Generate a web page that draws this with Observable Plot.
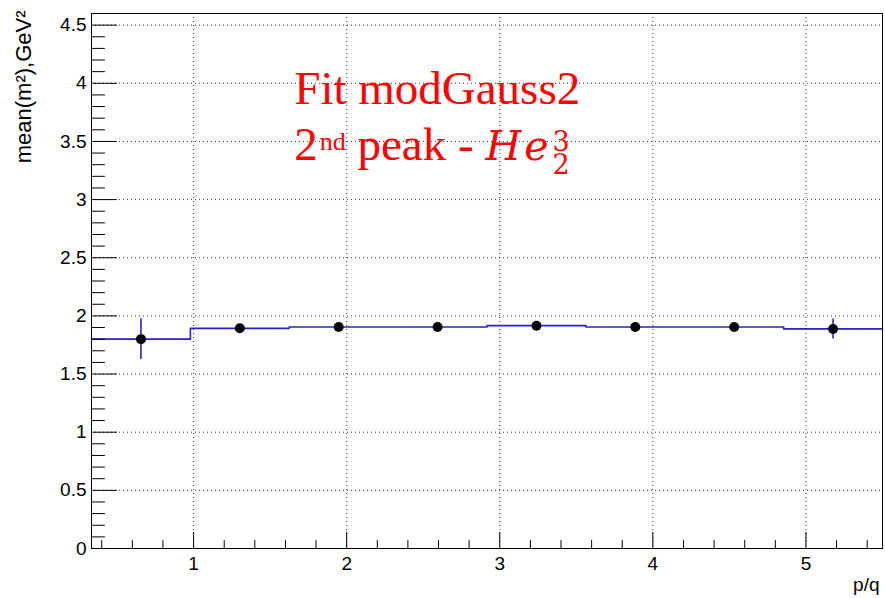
<!DOCTYPE html>
<html>
<head>
<meta charset="utf-8">
<script src="https://cdn.jsdelivr.net/npm/d3@7"></script>
<script src="https://cdn.jsdelivr.net/npm/@observablehq/plot@0.6"></script>
<style>
  html, body { margin: 0; padding: 0; background: #fff; }
  #chart svg { display: block; }
</style>
</head>
<body>
<div id="chart"></div>
<script>
// p/q histogram: 8 equal bins between 1/3 and 5.5
const binEdges = [0.3333, 0.9792, 1.6250, 2.2708, 2.9167, 3.5625, 4.2083, 4.8542, 5.5];
// fitted mean of m² (GeV²) in each bin, with its uncertainty
const meanM2  = [1.800, 1.893, 1.905, 1.905, 1.916, 1.905, 1.905, 1.888];
const meanErr = [0.176, 0.020, 0.020, 0.020, 0.020, 0.020, 0.020, 0.086];

// axis ticks
const xMajorTicks = [1, 2, 3, 4, 5];
const xMinorTicks = [0.4, 0.6, 0.8, 1.2, 1.4, 1.6, 1.8, 2.2, 2.4, 2.6, 2.8, 3.2, 3.4, 3.6, 3.8,
                     4.2, 4.4, 4.6, 4.8, 5.2, 5.4];
const yMajorTicks = [0, 0.5, 1, 1.5, 2, 2.5, 3, 3.5, 4, 4.5];
const yMinorTicks = [0.1, 0.2, 0.3, 0.4, 0.6, 0.7, 0.8, 0.9, 1.1, 1.2, 1.3, 1.4, 1.6, 1.7, 1.8, 1.9,
                     2.1, 2.2, 2.3, 2.4, 2.6, 2.7, 2.8, 2.9, 3.1, 3.2, 3.3, 3.4, 3.6, 3.7, 3.8, 3.9,
                     4.1, 4.2, 4.3, 4.4, 4.6];
const yMax = 4.6;

// labels
const xTitle = "p/q";
const yTitle = "mean(m²),GeV²";
const noteLine1 = "Fit modGauss2";
// annotation anchor, in data units
const noteX = 1.661, noteY1 = 3.818, noteY2 = 3.336;

const blue = "#2424cc";
const centers = meanM2.map((_, i) => (binEdges[i] + binEdges[i + 1]) / 2);
const points = meanM2.map((v, i) => ({x: centers[i], y: v, lo: v - meanErr[i], hi: v + meanErr[i]}));
const steps = binEdges.map((e, i) => ({x: e, y: meanM2[Math.min(i, meanM2.length - 1)]}));

// inward tick: a straight segment along the vector direction
const tickShape = {draw(ctx, l) { ctx.moveTo(0, 0); ctx.lineTo(0, -l); }};
const tick = (values, dim, len) => Plot.vector(values, {
  [dim]: d => d,
  frameAnchor: dim === "x" ? "bottom" : "left",
  rotate: dim === "x" ? 0 : 90,
  length: len, anchor: "start", shape: tickShape,
  stroke: "#000", strokeWidth: 1
});
const grid = {stroke: "#000", strokeOpacity: 0.8, strokeWidth: 1, strokeDasharray: "1,3"};

const plot = Plot.plot({
  width: 885,
  height: 598,
  marginLeft: 91,
  marginRight: 3,
  marginTop: 13,
  marginBottom: 50,
  style: {fontFamily: "'Liberation Sans', Arial, Helvetica, sans-serif", background: "#fff", color: "#000"},
  x: {domain: [binEdges[0], binEdges[binEdges.length - 1]]},
  y: {domain: [0, yMax]},
  marks: [
    Plot.gridX(xMajorTicks, grid),
    Plot.gridY(yMajorTicks.filter(d => d > 0), grid),
    Plot.line(steps, {x: "x", y: "y", curve: "step-after", stroke: blue, strokeWidth: 1.6}),
    Plot.ruleX(points, {x: "x", y1: "lo", y2: "hi", stroke: blue, strokeWidth: 1.6}),
    Plot.dot(points, {x: "x", y: "y", r: 5, fill: "#000", stroke: null}),
    tick(xMajorTicks, "x", 16),
    tick(xMinorTicks, "x", 8),
    tick(yMajorTicks, "y", 25),
    tick(yMinorTicks, "y", 13),
    Plot.axisX(xMajorTicks, {tickSize: 0, tickPadding: 8, fontSize: 19, label: null, tickFormat: d => String(d)}),
    Plot.axisY(yMajorTicks, {tickSize: 0, tickPadding: 5, fontSize: 19, label: null, tickFormat: d => String(d)}),
    Plot.frame({stroke: "#000", strokeWidth: 1}),
    Plot.text([xTitle], {frameAnchor: "bottom-right", textAnchor: "end", lineAnchor: "bottom",
                         dx: -3, dy: 42, fontSize: 19, fill: "#000"}),
    Plot.text([yTitle], {frameAnchor: "top-left", rotate: -90, textAnchor: "end", lineAnchor: "bottom",
                         dx: -61, dy: -3, fontSize: 22, fill: "#000"})
  ]
});

document.getElementById("chart").appendChild(plot);

// red fit annotation with super/subscripts
const sx = plot.scale("x"), sy = plot.scale("y");
const note = d3.select(plot).append("g")
  .attr("fill", "#ff0000")
  .attr("text-anchor", "start")
  .attr("font-family", "'Liberation Serif', 'Times New Roman', serif")
  .attr("font-size", 47);
note.append("text").attr("x", sx.apply(noteX)).attr("y", sy.apply(noteY1)).text(noteLine1);
const l2 = note.append("text").attr("x", sx.apply(noteX)).attr("y", sy.apply(noteY2));
l2.append("tspan").text("2");
l2.append("tspan").attr("font-size", 26).attr("dx", 2).attr("dy", -10).text("nd");
l2.append("tspan").attr("dy", 10).text(" peak - ");
const math = "'DejaVu Serif', serif";
l2.append("tspan").attr("font-family", math).attr("font-style", "italic").attr("font-size", 41)
  .attr("letter-spacing", 3).text("He");
const sub = l2.append("tspan").attr("font-family", math).attr("font-size", 27).attr("dx", 1).attr("dy", 14).text("2");
const subW = sub.node().getComputedTextLength();
l2.append("tspan").attr("font-family", math).attr("font-size", 27).attr("dx", -subW).attr("dy", -23).text("3");
</script>
</body>
</html>
